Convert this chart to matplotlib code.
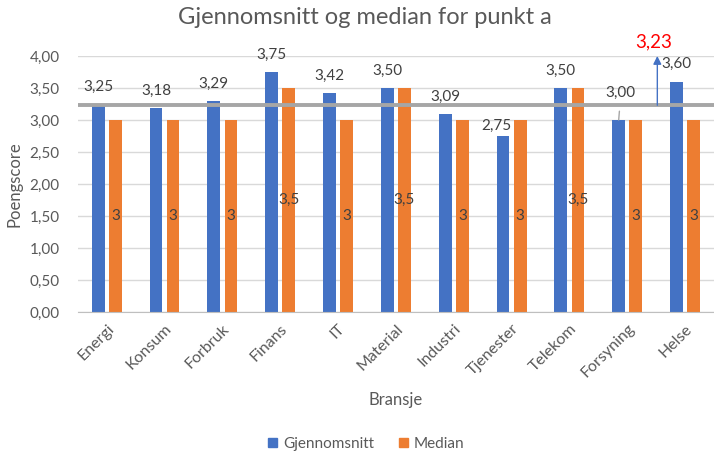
import numpy as np
import matplotlib
matplotlib.use("Agg")
import matplotlib.pyplot as plt
from matplotlib.patches import Patch

plt.rcParams["font.family"] = ["Lato", "DejaVu Sans"]

# Sector scores for "punkt a"
bransjer = ["Energi", "Konsum", "Forbruk", "Finans", "IT", "Material",
            "Industri", "Tjenester", "Telekom", "Forsyning", "Helse"]
gjennomsnitt = [3.25, 3.18, 3.29, 3.75, 3.42, 3.50, 3.09, 2.75, 3.50, 3.00, 3.60]
median = [3, 3, 3, 3.5, 3, 3.5, 3, 3, 3.5, 3, 3]
snitt_totalt = 3.23

BLUE = "#4472C4"
ORANGE = "#ED7D31"
TXT = "#595959"


def komma(v, dec=2):
    return f"{v:.{dec}f}".replace(".", ",")


def komma_kort(v):
    s = f"{v:g}"
    return s.replace(".", ",")


fig = plt.figure(figsize=(7.14, 4.54), dpi=100)
ax = fig.add_axes([0.109, 0.3128, 0.891, 0.5639])

x = np.arange(len(bransjer))
w = 0.22
off = 0.148
ax.bar(x - off, gjennomsnitt, w, color=BLUE, zorder=3)
ax.bar(x + off, median, w, color=ORANGE, zorder=3)

ax.set_xlim(-0.5, len(bransjer) - 0.5)
ax.set_ylim(0, 4)
ax.set_yticks(np.arange(0, 4.01, 0.5))
ax.set_yticklabels([komma(t) for t in np.arange(0, 4.01, 0.5)])
ax.yaxis.grid(True, color="#d9d9d9", linewidth=1.0, zorder=0)
ax.set_axisbelow(True)
for s in ["top", "right", "left"]:
    ax.spines[s].set_visible(False)
ax.spines["bottom"].set_color("#bfbfbf")
ax.spines["bottom"].set_zorder(4)
ax.tick_params(axis="y", length=0, pad=13, labelsize=11, labelcolor=TXT)
ax.tick_params(axis="x", length=0, pad=7, labelsize=11.5, labelcolor=TXT)
ax.set_xticks(x)
ax.set_xticklabels(bransjer, rotation=45, ha="right", rotation_mode="anchor")

# mean labels above the blue bars
for i, v in enumerate(gjennomsnitt):
    if bransjer[i] == "Forsyning":
        ax.annotate(komma(v), xy=(i - off, v), xytext=(i - 0.11, 3.42),
                    ha="center", va="center", fontsize=11, color="#404040",
                    arrowprops=dict(arrowstyle="-", color="#a6a6a6", lw=1,
                                    shrinkA=6, shrinkB=0), zorder=6)
    elif bransjer[i] == "Tjenester":
        ax.text(i - 0.27, v + 0.16, komma(v), ha="center", va="center",
                fontsize=11, color="#404040", zorder=6)
    else:
        ax.annotate(komma(v), xy=(i - off, v), xytext=(0, 12.5),
                    textcoords="offset points", ha="center", va="center",
                    fontsize=11, color="#404040", zorder=6)

# median labels centred inside the orange bars
for i, v in enumerate(median):
    ax.text(i + off, v / 2, komma_kort(v), ha="center", va="center",
            fontsize=11, color="#404040", zorder=6)

# overall mean line with arrow and label
ax.axhline(snitt_totalt, color="#a6a6a6", linewidth=2.8, zorder=5)
ax.annotate("", xy=(9.52, 4.0), xytext=(9.52, snitt_totalt),
            arrowprops=dict(arrowstyle="-|>", color=BLUE, lw=1,
                            mutation_scale=12, shrinkA=0, shrinkB=0),
            zorder=6, annotation_clip=False)
ax.text(9.45, 4.22, komma(snitt_totalt), ha="center", va="center",
        fontsize=13.5, color="red", clip_on=False)

ax.set_ylabel("Poengscore", fontsize=12, color=TXT, labelpad=5)
ax.set_xlabel("Bransje", fontsize=12, color=TXT, labelpad=8)
fig.suptitle("Gjennomsnitt og median for punkt a", x=0.511, y=0.985,
             fontsize=17, color=TXT)

handles = [Patch(color=BLUE, label="Gjennomsnitt"),
           Patch(color=ORANGE, label="Median")]
fig.legend(handles=handles, loc="center", bbox_to_anchor=(0.513, 0.022),
           ncol=2, frameon=False, fontsize=11, labelcolor=TXT,
           handlelength=0.6, handleheight=0.6, handletextpad=0.4,
           columnspacing=1.6)

fig.savefig("out.png", dpi=100)
